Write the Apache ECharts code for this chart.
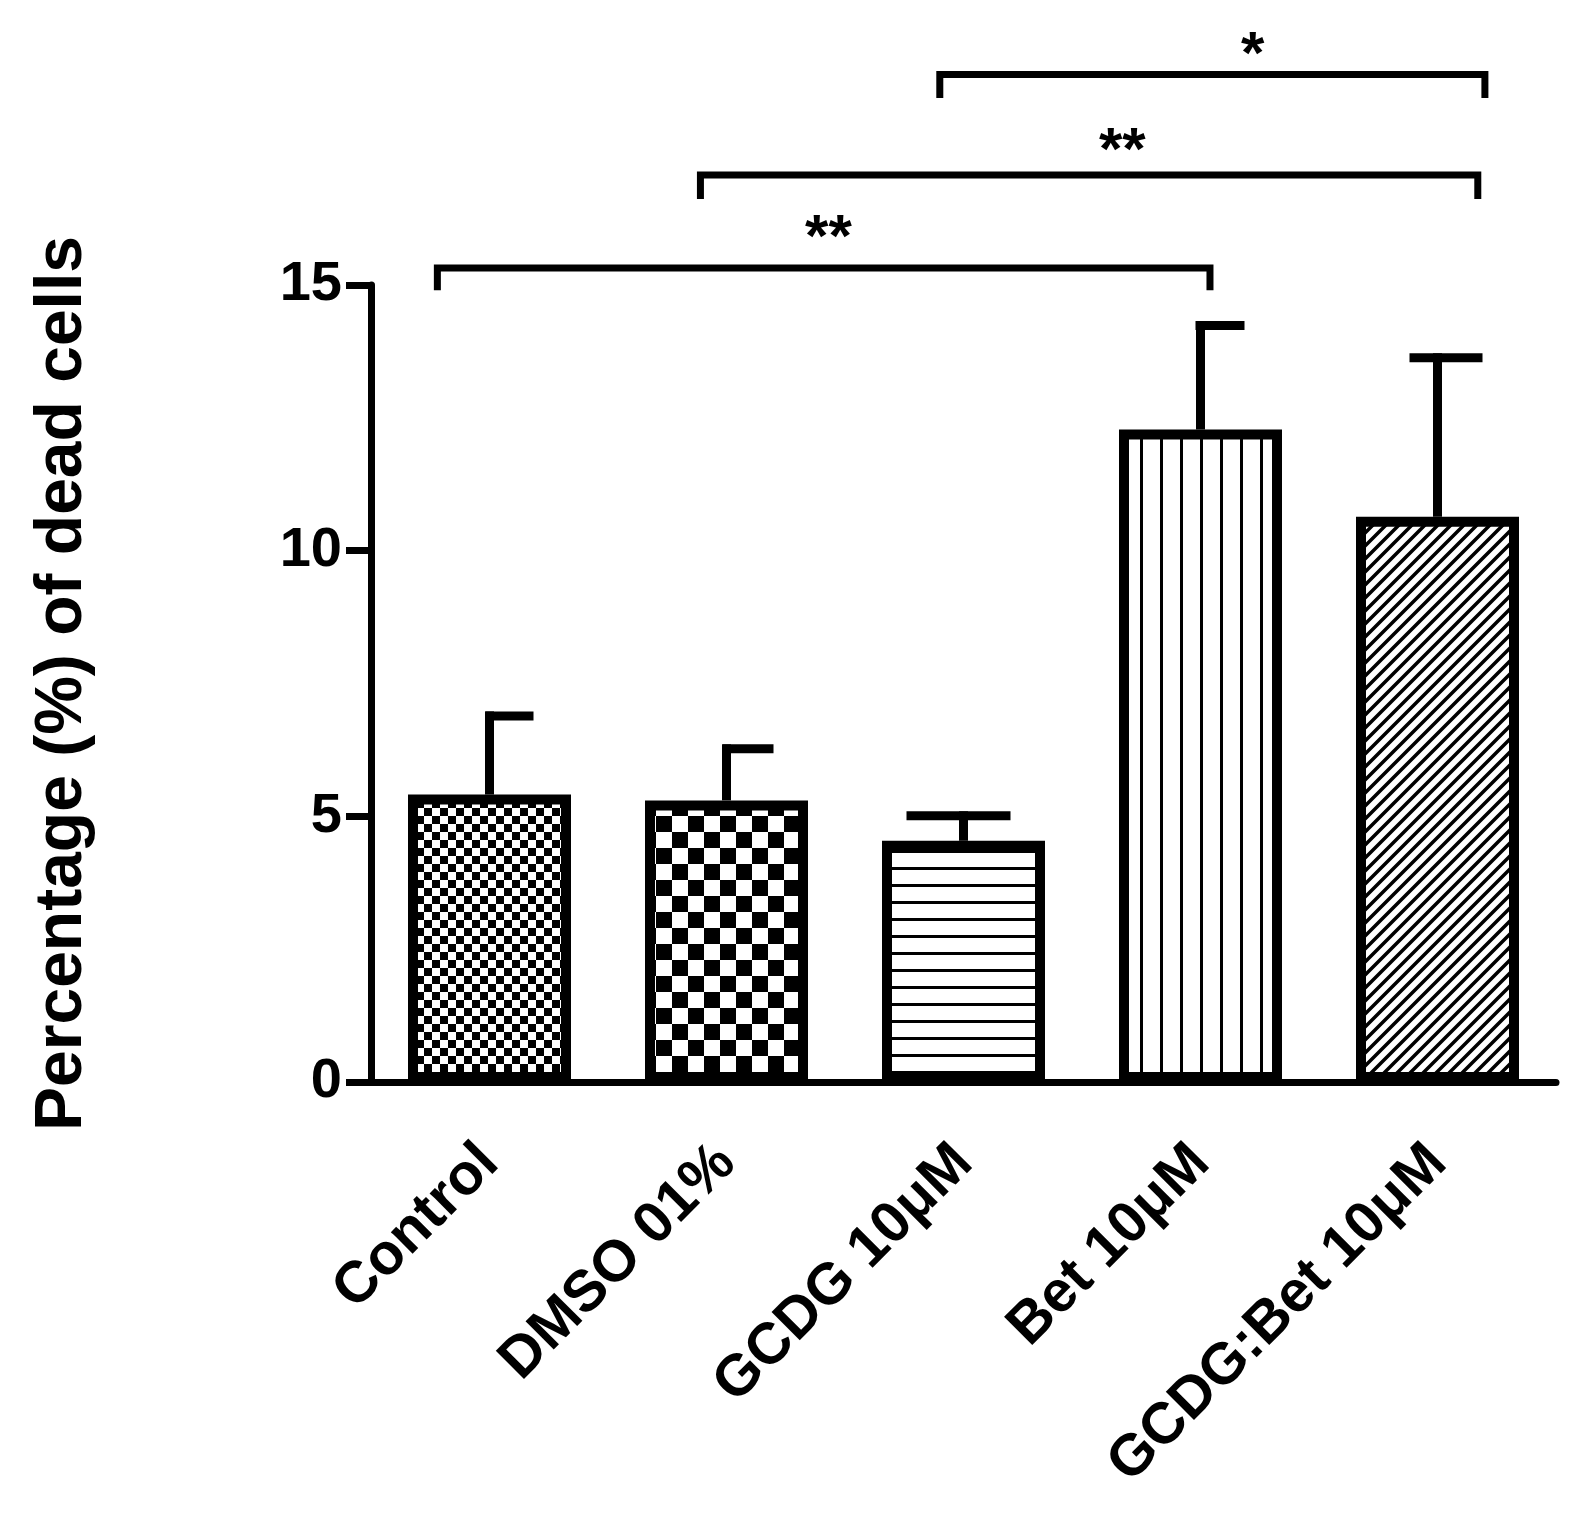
<!DOCTYPE html>
<html><head><meta charset="utf-8">
<script src="https://cdn.jsdelivr.net/npm/echarts@6/dist/echarts.min.js"></script>
<style>html,body{margin:0;padding:0;background:#fff}#c{width:1585px;height:1517px}</style>
</head><body><div id="c"></div>
<script>
// ---- data ----
const categories = ['Control', 'DMSO 01%', 'GCDG 10\u03bcM', 'Bet 10\u03bcM', 'GCDG:Bet 10\u03bcM'];
const means = [5.41, 5.30, 4.54, 12.28, 10.64];
const errors = [1.48, 0.97, 0.47, 1.96, 2.99];
const yTicks = [0, 5, 10, 15];
const patterns = ['fineChecker', 'coarseChecker', 'hLines', 'vLines', 'diag'];
// significance brackets (x in category index units, y in data units)
const bracketFrom = [-0.22, 0.89, 1.9];
const bracketTo = [3.04, 4.17, 4.2];
const bracketY = [15.32, 17.07, 18.96];
const bracketLeg = [14.9, 16.62, 18.52];
const bracketText = ['**', '**', '*'];
const bracketTextX = [1.43, 2.67, 3.22];
const bracketTextY = [15.85, 17.5, 19.3];

// style: error-bar cap extents (pixels left / right of the bar centre)
const capStyle = [[4, 44], [4, 47], [57, 47], [5, 44], [28, 45]];

const FONT = '"Liberation Sans", Arial, Helvetica, sans-serif';

function makePattern(type) {
  const c = document.createElement('canvas');
  let s;
  const fill = (ctx, w, h) => { ctx.fillStyle = '#fff'; ctx.fillRect(0, 0, w, h); ctx.fillStyle = '#000'; };
  if (type === 'fineChecker') {
    s = 16; c.width = c.height = s; const x = c.getContext('2d'); fill(x, s, s);
    x.fillRect(0, 0, 8, 8); x.fillRect(8, 8, 8, 8);
  } else if (type === 'coarseChecker') {
    s = 32; c.width = c.height = s; const x = c.getContext('2d'); fill(x, s, s);
    x.fillRect(0, 0, 16, 16); x.fillRect(16, 16, 16, 16);
  } else if (type === 'hLines') {
    c.width = 8; c.height = 17; const x = c.getContext('2d'); fill(x, 8, 17);
    x.fillRect(0, 0, 8, 3);
  } else if (type === 'vLines') {
    c.width = 20; c.height = 8; const x = c.getContext('2d'); fill(x, 20, 8);
    x.fillRect(0, 0, 3, 8);
  } else {
    s = 13; c.width = c.height = s; const x = c.getContext('2d'); fill(x, s, s);
    x.strokeStyle = '#000'; x.lineWidth = 3.5;
    x.beginPath();
    x.moveTo(-2, s + 2); x.lineTo(s + 2, -2);
    x.moveTo(-2, 2); x.lineTo(2, -2);
    x.moveTo(s - 2, s + 2); x.lineTo(s + 2, s - 2);
    x.stroke();
  }
  return c;
}

const barData = means.map((v, i) => ({
  value: v,
  itemStyle: { color: { image: makePattern(patterns[i]), repeat: 'repeat' } }
}));
const errData = means.map((v, i) => [i, v, v + errors[i]]);
const brData = bracketFrom.map((f, i) => [f, bracketTo[i], bracketY[i], bracketLeg[i], bracketTextX[i], bracketTextY[i], i]);

const chart = echarts.init(document.getElementById('c'), null, { renderer: 'canvas' });
chart.setOption({
  animation: false,
  backgroundColor: '#fff',
  grid: { left: 371, right: 29, top: 285, bottom: 435, containLabel: false },
  xAxis: [{
    type: 'category', data: categories, boundaryGap: true,
    axisLine: { onZero: false, lineStyle: { color: '#000', width: 7 } },
    axisTick: { alignWithLabel: true, length: 24, lineStyle: { color: '#000', width: 7 } },
    axisLabel: { rotate: 45, margin: 72, color: '#000', fontSize: 58, fontWeight: 'bold', fontFamily: FONT, interval: 0 }
  }, {
    type: 'value', min: -0.5, max: 4.5, show: false
  }],
  yAxis: {
    type: 'value', min: 0, max: 15, interval: 5,
    name: 'Percentage (%) of dead cells', nameLocation: 'middle', nameRotate: 90, nameGap: 275,
    nameTextStyle: { color: '#000', fontSize: 66, fontWeight: 'bold', fontFamily: FONT },
    axisLine: { show: true, onZero: false, lineStyle: { color: '#000', width: 7 } },
    axisTick: { show: true, length: 25, lineStyle: { color: '#000', width: 7 } },
    axisLabel: { color: '#000', fontSize: 56, fontWeight: 'bold', fontFamily: FONT, margin: 29,
      formatter: v => (yTicks.indexOf(v) >= 0 ? String(v) : '') },
    splitLine: { show: false }
  },
  series: [{
    type: 'bar', data: barData, barWidth: 163, z: 2,
    itemStyle: { borderColor: '#000', borderWidth: 10 }
  }, {
    type: 'custom', xAxisIndex: 1, data: errData, z: 1, clip: false,
    renderItem: function (params, api) {
      const x = api.value(0);
      const p0 = api.coord([x, api.value(1)]);
      const p1 = api.coord([x, api.value(2)]);
      const cap = capStyle[params.dataIndex];
      return { type: 'group', children: [
        { type: 'line', shape: { x1: p0[0], y1: p0[1], x2: p1[0], y2: p1[1] - 4.5 }, style: { stroke: '#000', lineWidth: 9 } },
        { type: 'line', shape: { x1: p1[0] - cap[0], y1: p1[1], x2: p1[0] + cap[1], y2: p1[1] }, style: { stroke: '#000', lineWidth: 9 } }
      ] };
    }
  }, {
    type: 'custom', xAxisIndex: 1, data: brData, z: 3, clip: false,
    renderItem: function (params, api) {
      const a = api.coord([api.value(0), api.value(3)]);
      const b = api.coord([api.value(0), api.value(2)]);
      const c = api.coord([api.value(1), api.value(2)]);
      const d = api.coord([api.value(1), api.value(3)]);
      const t = api.coord([api.value(4), api.value(5)]);
      return { type: 'group', children: [
        { type: 'polyline', shape: { points: [a, b, c, d] }, style: { stroke: '#000', lineWidth: 7, fill: null, lineJoin: 'miter' } },
        { type: 'text', x: t[0], y: t[1], style: { text: bracketText[api.value(6)], fill: '#000', font: 'bold 60px ' + FONT, textAlign: 'center', textVerticalAlign: 'middle' } }
      ] };
    }
  }]
});
</script></body></html>
